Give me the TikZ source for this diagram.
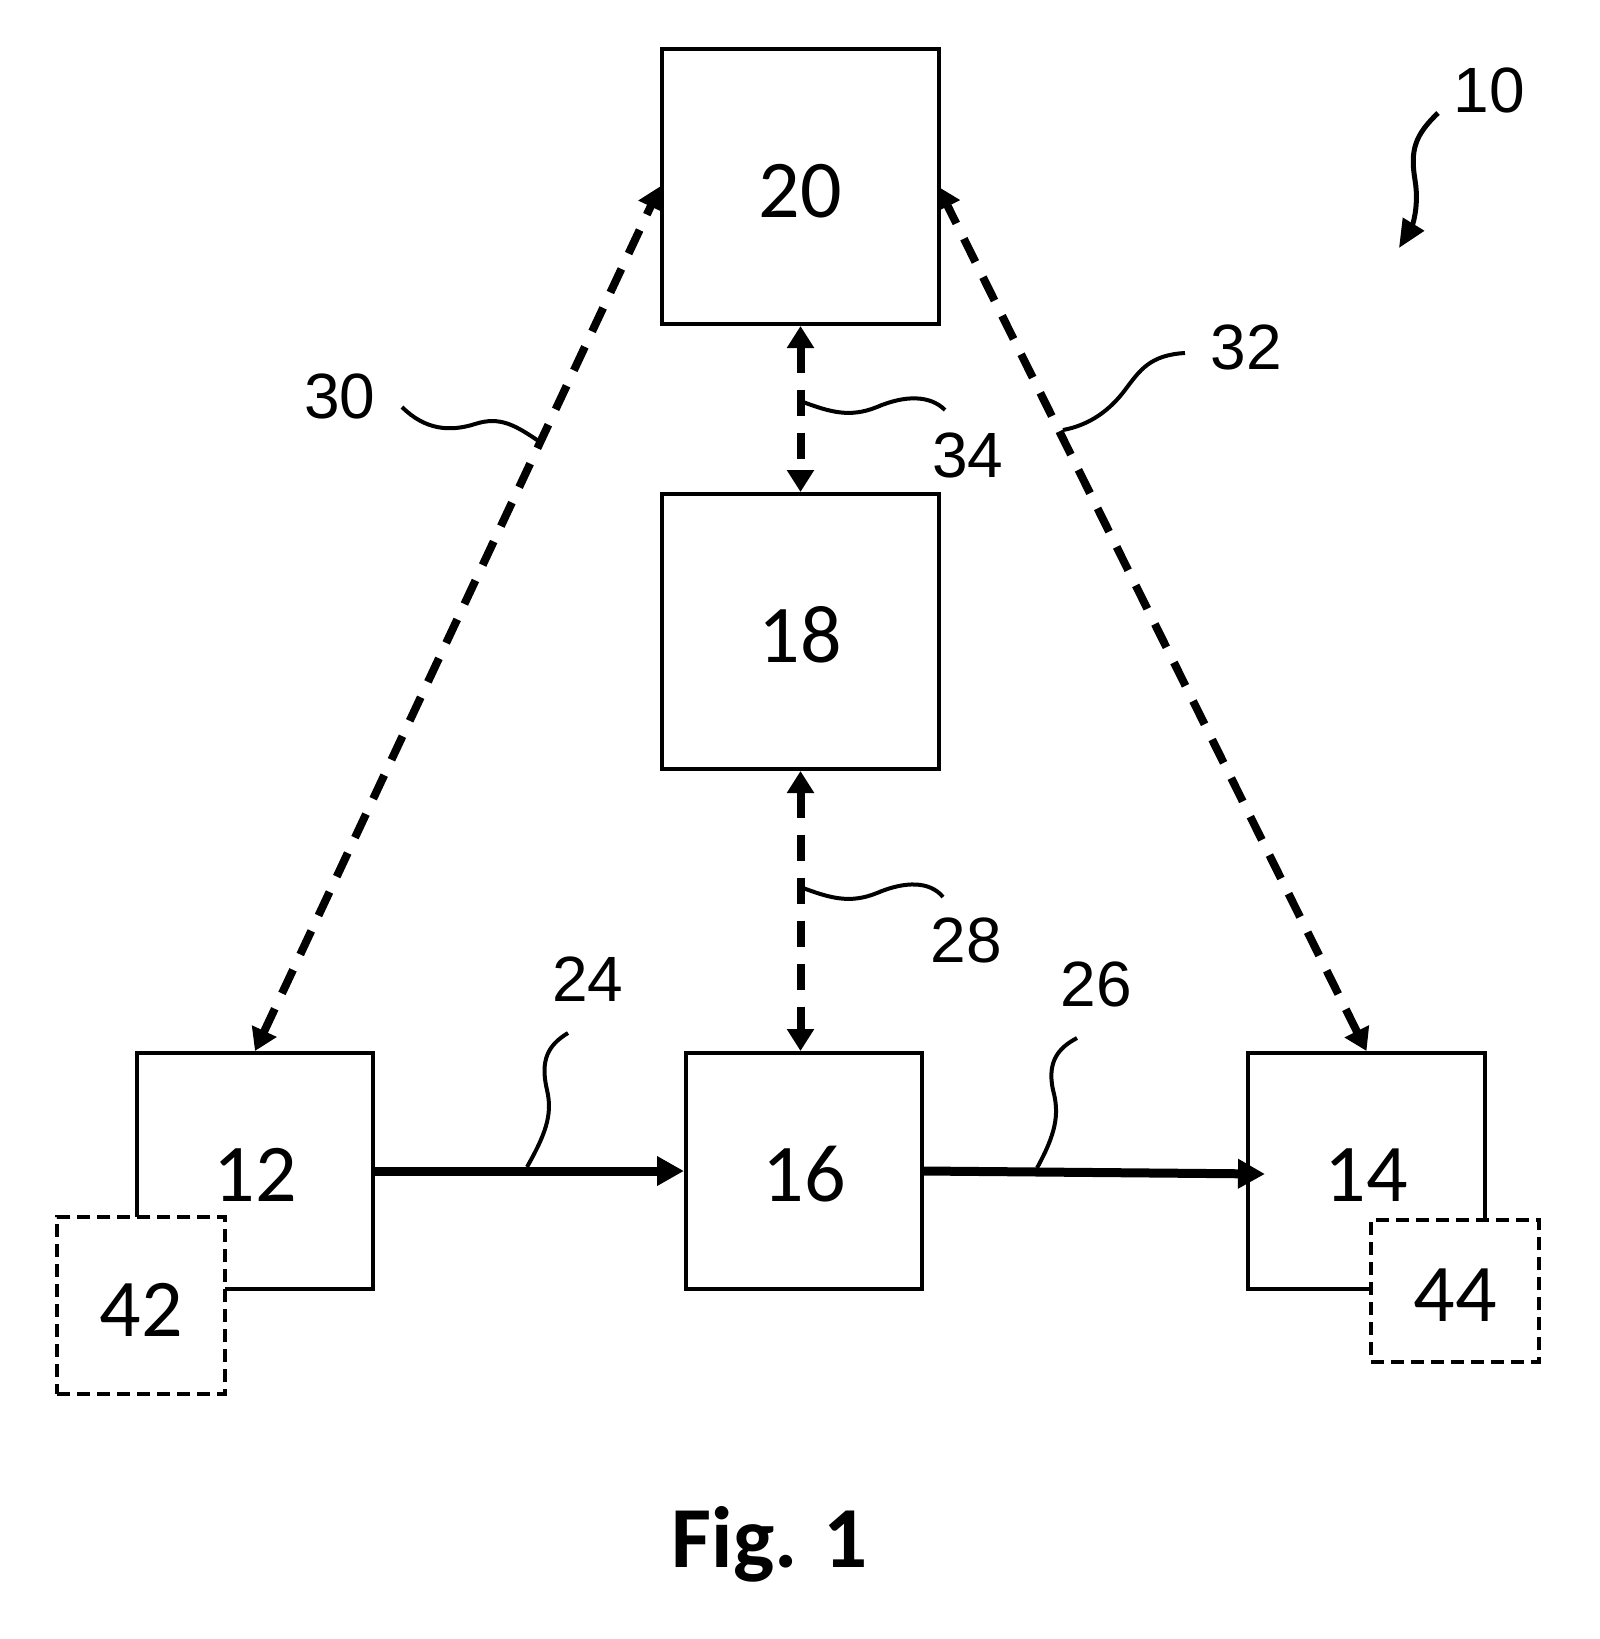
\documentclass[tikz,border=0pt]{standalone}
\usepackage{fontspec}
\setmainfont{Liberation Sans}
\newfontfamily\boxfont{Carlito}
\usetikzlibrary{arrows.meta,backgrounds}
\begin{document}
\begin{tikzpicture}[x=0.5pt,y=-0.5pt,
  box/.style={draw, line width=2pt, fill=white, rectangle, inner sep=0pt, text height=30.5pt, text depth=0pt, font=\boxfont\fontsize{41}{41}\selectfont},
  dbox/.style={box, dash pattern=on 6.5pt off 3.5pt},
  ref/.style={font=\fontsize{32}{32}\selectfont, inner sep=0pt},
  lead/.style={line width=2pt},
  link/.style={line width=4pt, dash pattern=on 13pt off 8.5pt, {Triangle[length=11pt,width=13pt]}-{Triangle[length=11pt,width=13pt]}},
  flow/.style={line width=4.5pt, -{Triangle[length=13.5pt,width=14pt]}}
]
\useasboundingbox (0,0) rectangle (1600,1639);

% boxes
\node[box, minimum width=138.5pt, minimum height=137.5pt] (b20) at (800.5,186.5) {20};
\node[box, minimum width=138.5pt, minimum height=137.5pt] (b18) at (800.5,631.5) {18};
\node[box, minimum width=118pt, minimum height=118pt] (b12) at (255,1171) {12};
\node[box, minimum width=118pt, minimum height=118pt] (b16) at (804,1171) {16};
\node[box, minimum width=118.5pt, minimum height=118pt] (b14) at (1366.5,1171) {14};
\node[dbox, minimum width=84pt, minimum height=88.5pt] (b42) at (141,1305.5) {42};
\node[dbox, minimum width=84pt, minimum height=71pt] (b44) at (1455,1291) {44};

% reference numerals
\node[ref] (l10) at (1489,90) {10};
\node[ref] (l30) at (340,396) {30};
\node[ref] (l32) at (1246,347) {32};
\node[ref] (l34) at (968,455) {34};
\node[ref] (l28) at (966,940) {28};
\node[ref] (l24) at (588,979) {24};
\node[ref] (l26) at (1096,984) {26};
\node[font=\boxfont\bfseries\fontsize{43.5}{43.5}\selectfont, inner sep=0pt, anchor=base] (fig) at (770,1567) {Fig. 1};

% connectors behind box 20
\begin{scope}[on background layer]
  \fill[white] (0,0) rectangle (1600,1639);
  \draw[link] (b12.north) -- (b20.west);
  \draw[link] (b14.north) -- ([xshift=-1.5pt]b20.east);
\end{scope}

\draw[link] (b20.south) -- (b18.north);
\draw[link] (b18.south) -- (b18.south |- b16.north);
\draw[flow] (b12.east) -- (b16.west);
\draw[flow] (b16.east) -- ([xshift=9.5pt,yshift=-1.5pt]b14.west);

% leader lines
\draw[lead] (402,407) .. controls (425,430) and (450,432) .. (475,424) .. controls (500,416) and (515,425) .. (540,442);
\draw[lead] (1185,353) .. controls (1150,355) and (1140,370) .. (1125,390) .. controls (1110,410) and (1090,425) .. (1063,430);
\draw[lead] (803,402) .. controls (830,412) and (850,418) .. (877,407) .. controls (905,395) and (930,395) .. (945,410);
\draw[lead] (803,888) .. controls (830,898) and (850,904) .. (877,893) .. controls (905,881) and (930,881) .. (943,897);
\draw[lead] (527,1167) .. controls (545,1135) and (553,1115) .. (547,1090) .. controls (540,1060) and (548,1045) .. (568,1033);
\draw[lead] (1037,1168) .. controls (1055,1135) and (1060,1115) .. (1053,1090) .. controls (1047,1062) and (1058,1048) .. (1077,1038);
\draw[line width=2.5pt, -{Triangle[length=14pt,width=12pt]}] (1438,113) .. controls (1415,135) and (1410,150) .. (1415,180) .. controls (1420,210) and (1410,230) .. (1399,248);
\end{tikzpicture}
\end{document}
